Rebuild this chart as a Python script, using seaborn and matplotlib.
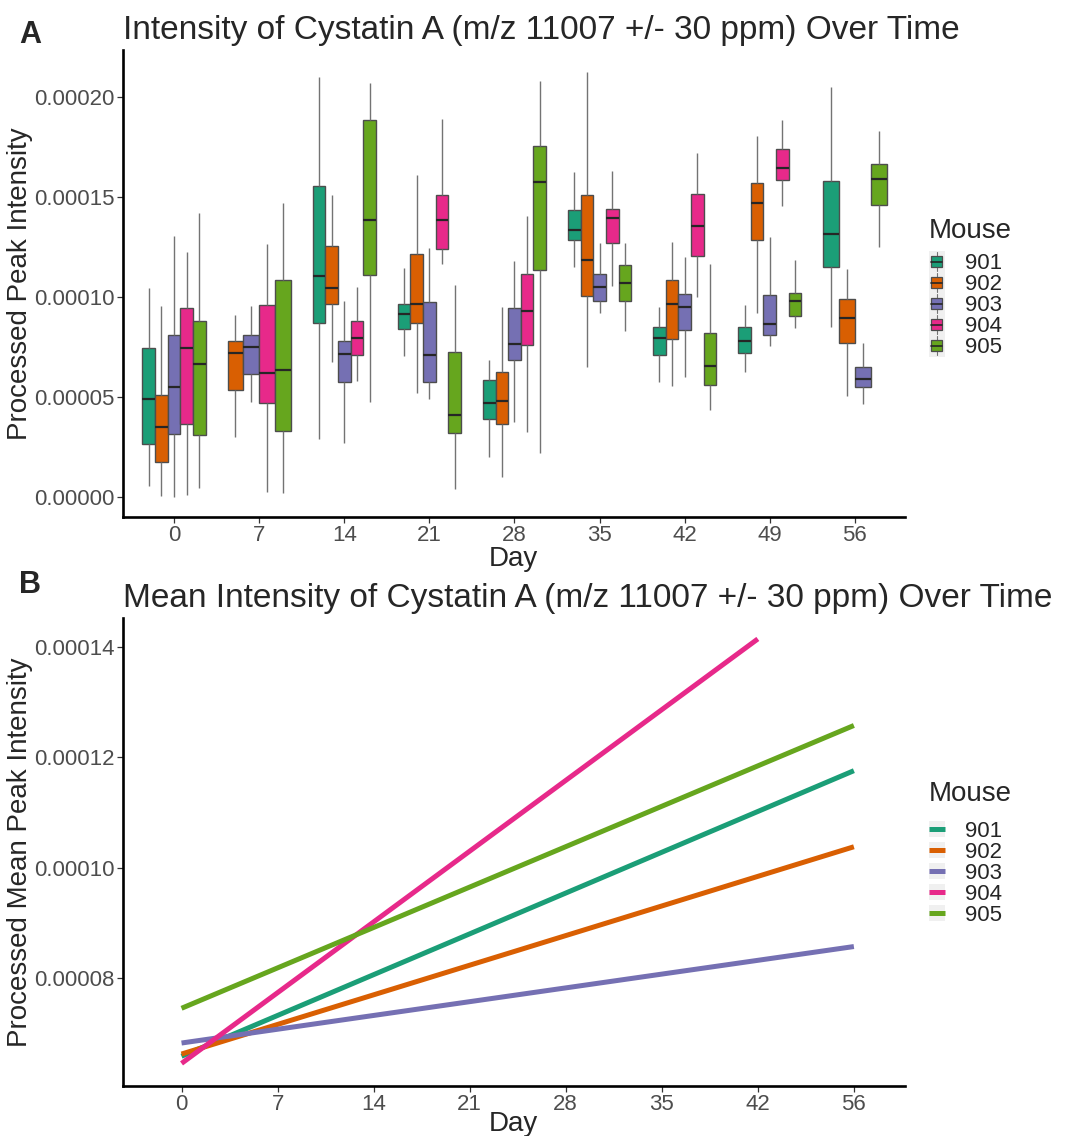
import numpy as np
import pandas as pd
import seaborn as sns
import matplotlib.pyplot as plt
from matplotlib.ticker import FormatStrFormatter
from matplotlib.patches import Patch, Rectangle
from matplotlib.lines import Line2D
from matplotlib.legend_handler import HandlerTuple

mice = ["901", "902", "903", "904", "905"]
days = [0, 7, 14, 21, 28, 35, 42, 49, 56]

# Panel A box summaries (units of 1e-5), rows = days, columns = mice
nan = np.nan
whisker_lo = [
    [0.55, 0.05, 0.00, 0.10, 0.43],
    [nan, 2.97, 4.73, 0.22, 0.18],
    [2.90, 6.75, 2.68, 5.82, 4.77],
    [7.05, 5.18, 4.88, 11.65, 0.38],
    [1.98, 0.98, 3.77, 3.25, 2.18],
    [11.48, 6.48, 9.18, 10.57, 8.30],
    [5.77, 5.57, 6.02, 10.00, 4.33],
    [6.23, 9.18, 7.55, 14.55, 8.47],
    [8.52, 5.05, 4.63, nan, 12.48],
]
q1 = [
    [2.65, 1.72, 3.15, 3.63, 3.07],
    [nan, 5.35, 6.17, 4.72, 3.27],
    [8.68, 9.65, 5.73, 7.08, 11.12],
    [8.38, 8.72, 5.73, 12.38, 3.18],
    [3.88, 3.63, 6.83, 7.62, 11.33],
    [12.87, 10.03, 9.82, 12.68, 9.78],
    [7.12, 7.88, 8.37, 12.03, 5.58],
    [7.18, 12.87, 8.10, 15.87, 9.03],
    [11.48, 7.68, 5.52, nan, 14.62],
]
median = [
    [4.90, 3.48, 5.52, 7.43, 6.65],
    [nan, 7.22, 7.52, 6.22, 6.35],
    [11.07, 10.43, 7.15, 7.97, 13.85],
    [9.15, 9.63, 7.10, 13.85, 4.10],
    [4.72, 4.82, 7.65, 9.30, 15.77],
    [13.33, 11.85, 10.52, 13.93, 10.68],
    [7.97, 9.63, 9.50, 13.57, 6.55],
    [7.80, 14.70, 8.65, 16.43, 9.80],
    [13.17, 8.97, 5.88, nan, 15.88],
]
q3 = [
    [7.43, 5.10, 8.08, 9.45, 8.80],
    [nan, 7.80, 8.08, 9.60, 10.87],
    [15.55, 12.53, 7.78, 8.78, 18.83],
    [9.63, 12.13, 9.73, 15.12, 7.25],
    [5.87, 6.25, 9.43, 11.13, 17.55],
    [14.33, 15.08, 11.15, 14.42, 11.58],
    [8.50, 10.83, 10.13, 15.13, 8.20],
    [8.52, 15.70, 10.10, 17.40, 10.18],
    [15.78, 9.90, 6.48, nan, 16.67],
]
whisker_hi = [
    [10.43, 9.57, 13.07, 12.23, 14.20],
    [nan, 9.12, 9.55, 12.65, 14.68],
    [21.02, 15.10, 9.80, 10.52, 20.68],
    [11.47, 16.10, 12.47, 18.90, 10.60],
    [6.85, 9.48, 11.82, 14.05, 20.80],
    [16.27, 21.27, 12.70, 16.28, 12.70],
    [9.48, 12.77, 12.02, 17.18, 11.65],
    [9.62, 18.07, 13.00, 18.83, 11.87],
    [20.50, 11.38, 7.68, nan, 18.30],
]

# Panel B fitted mean lines (units of 1e-5)
mean_days = [0, 7, 14, 21, 28, 35, 42, 56]
line_start = [6.58, 6.62, 6.82, 6.45, 7.45]
line_end = [11.76, 10.38, 8.57, 14.15, 12.58]
line_end_day = [56, 56, 56, 42, 56]

# long table: five summary points per box -> quartiles reproduce the box
rows = []
for i, d in enumerate(days):
    for j, m in enumerate(mice):
        if np.isnan(median[i][j]):
            continue
        for v in (whisker_lo[i][j], q1[i][j], median[i][j], q3[i][j], whisker_hi[i][j]):
            rows.append({"Day": d, "Mouse": m, "Intensity": v * 1e-5})
box_df = pd.DataFrame(rows)

rows = []
for m, s, e, ed in zip(mice, line_start, line_end, line_end_day):
    rows.append({"Mouse": m, "pos": 0, "Mean": s * 1e-5})
    rows.append({"Mouse": m, "pos": mean_days.index(ed), "Mean": e * 1e-5})
line_df = pd.DataFrame(rows)

sns.set_theme(style="white")
plt.rcParams["font.family"] = ["Liberation Sans", "DejaVu Sans"]

palette = dict(zip(mice, sns.color_palette("Dark2", 5)))
tick_gray = "#4D4D4D"
key_bg = "#F0F0F0"


class BoxKey:
    """legend key drawn like a small boxplot on a grey tile"""
    def legend_artist(self, legend, orig_handle, fontsize, handlebox):
        x0, y0 = -handlebox.xdescent, -handlebox.ydescent
        w, h = handlebox.width, handlebox.height
        tr = handlebox.get_transform()
        handlebox.add_artist(Rectangle((x0, y0 - 2), w, h + 4, facecolor=key_bg,
                                       edgecolor="none", transform=tr))
        cx = x0 + w / 2
        handlebox.add_artist(Line2D([cx, cx], [y0 - 1, y0 + h + 1], color="0.45",
                                    linewidth=0.8, transform=tr))
        box = Rectangle((x0 + w * 0.15, y0 + h * 0.15), w * 0.7, h * 0.7,
                        facecolor=orig_handle.get_facecolor(), edgecolor="0.3",
                        linewidth=0.9, transform=tr)
        handlebox.add_artist(box)
        handlebox.add_artist(Line2D([x0 + w * 0.15, x0 + w * 0.85], [y0 + h / 2] * 2,
                                    color="0.15", linewidth=1.2, transform=tr))
        return box


fig = plt.figure(figsize=(10.71, 11.36), dpi=100)
axA = fig.add_axes([0.1148, 0.545, 0.730, 0.411])
axB = fig.add_axes([0.1148, 0.044, 0.730, 0.412])

# Panel A: boxplots, one call per day so missing mice don't leave a gap
for d in days:
    sub = box_df[box_df["Day"] == d]
    present = [m for m in mice if m in set(sub["Mouse"])]
    sns.boxplot(data=sub, x="Day", y="Intensity", hue="Mouse", hue_order=present,
                palette=palette, orient="x", native_scale=True, dodge=True,
                width=5.2, whis=(0, 100), saturation=1, linecolor="0.3",
                linewidth=1, showcaps=False, legend=False, ax=axA,
                whiskerprops=dict(color="0.45"),
                medianprops=dict(color="0.15", linewidth=1.6))

axA.set_xticks(days)
axA.set_xticklabels([str(d) for d in days])
axA.set_xlim(-4.2, 60.1)
axA.set_ylim(-1e-5, 2.235e-4)
axA.set_yticks([0, 5e-5, 1e-4, 1.5e-4, 2e-4])
axA.yaxis.set_major_formatter(FormatStrFormatter("%.5f"))
axA.set_xlabel("Day", fontsize=20, labelpad=0)
axA.set_ylabel("Processed Peak Intensity", fontsize=20, labelpad=1)
axA.set_title("Intensity of Cystatin A (m/z 11007 +/- 30 ppm) Over Time",
              loc="left", fontsize=24, pad=8)

# Panel B: fitted mean lines on a discrete day axis
sns.lineplot(data=line_df, x="pos", y="Mean", hue="Mouse", palette=palette,
             linewidth=3.6, legend=False, ax=axB, solid_capstyle="butt")
axB.set_xticks(range(len(mean_days)))
axB.set_xticklabels([str(d) for d in mean_days])
axB.set_xlim(-0.61, 7.53)
axB.set_ylim(6.04e-5, 1.453e-4)
axB.set_yticks([8e-5, 1e-4, 1.2e-4, 1.4e-4])
axB.yaxis.set_major_formatter(FormatStrFormatter("%.5f"))
axB.set_xlabel("Day", fontsize=20, labelpad=-3)
axB.set_ylabel("Processed Mean Peak Intensity", fontsize=20, labelpad=1)
axB.set_title("Mean Intensity of Cystatin A (m/z 11007 +/- 30 ppm) Over Time",
              loc="left", fontsize=24, pad=8)

for ax in (axA, axB):
    sns.despine(ax=ax)
    for side in ("left", "bottom"):
        ax.spines[side].set_linewidth(1.9)
        ax.spines[side].set_color("black")
    ax.tick_params(axis="both", which="major", labelsize=16, labelcolor=tick_gray,
                   length=4, width=0.9, color="0.2", direction="out",
                   bottom=True, left=True, pad=2)

# legends
box_handles = [Patch(facecolor=palette[m]) for m in mice]
line_handles = [(Patch(facecolor=key_bg, edgecolor="none"),
                 Line2D([], [], color=palette[m], linewidth=3.6, solid_capstyle="butt"))
                for m in mice]
leg_kw = dict(title="Mouse", fontsize=16, title_fontsize=20, frameon=False,
              handlelength=0.7, handleheight=0.75, handletextpad=0.9,
              labelspacing=0.0, alignment="left", borderpad=0.2)
legA = fig.legend(box_handles, mice, loc="upper left", bbox_to_anchor=(0.853, 0.822),
                  handler_map={Patch: BoxKey()}, **leg_kw)
legB = fig.legend(line_handles, mice, loc="upper left", bbox_to_anchor=(0.853, 0.326),
                  handler_map={tuple: HandlerTuple(ndivide=1, pad=0)}, **leg_kw)
legA.get_title().set_position((0, 0))
legB.get_title().set_position((0, 0))
legA._legend_box.sep = 7
legB._legend_box.sep = 10

fig.text(0.018, 1 - 35 / 1136, "A", fontsize=22, fontweight="bold", va="center")
fig.text(0.018, 1 - 585 / 1136, "B", fontsize=22, fontweight="bold", va="center")

fig.savefig("out.png", dpi=100)
